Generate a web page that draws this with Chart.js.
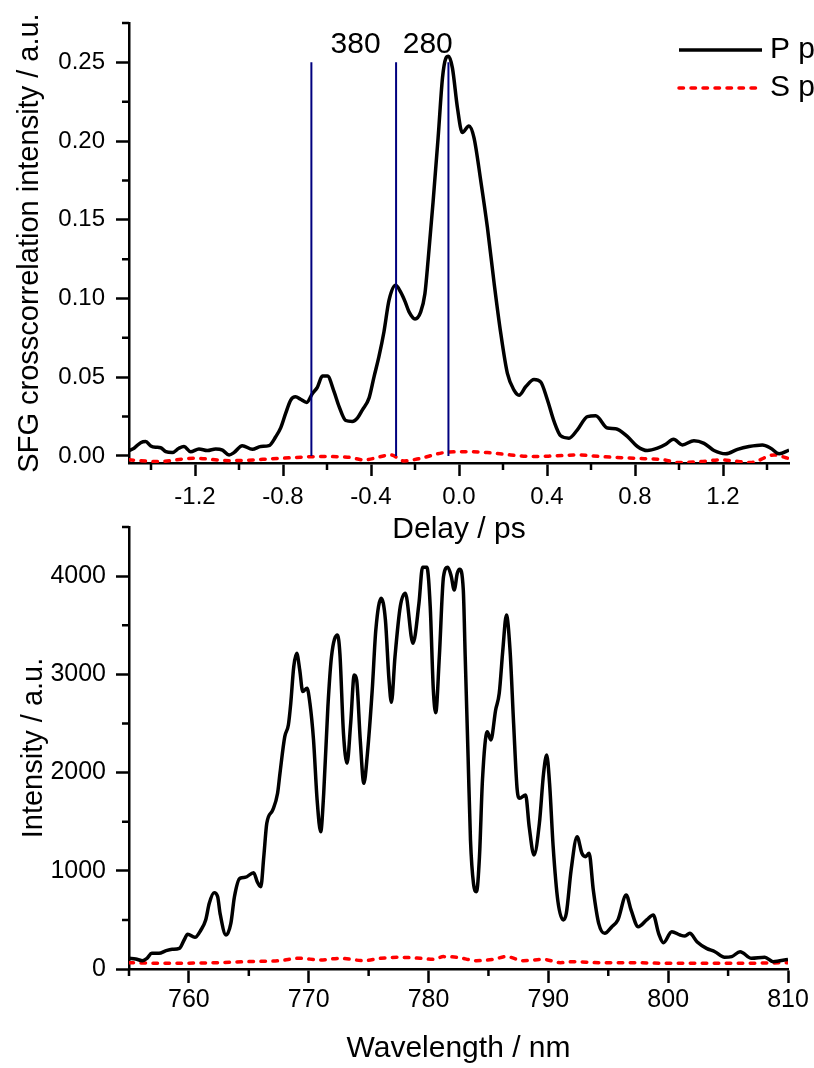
<!DOCTYPE html>
<html>
<head>
<meta charset="utf-8">
<script src="https://cdn.jsdelivr.net/npm/chart.js@4.4.1/dist/chart.umd.min.js"></script>
<style>
body { margin: 0; background: #fff; }
#wrap { position: relative; width: 814px; height: 1068px; overflow: hidden; }
canvas { position: absolute; left: 0; }
#top { top: 0; }
#bottom { top: 500px; }
</style>
</head>
<body>
<div id="wrap">
<canvas id="top" width="814" height="548"></canvas>
<canvas id="bottom" width="814" height="568"></canvas>
</div>
<script>
const FONT = "'Liberation Sans', Arial, sans-serif"
Chart.defaults.font.family = FONT
Chart.defaults.color = '#000'

// upper panel: SFG crosscorrelation vs delay
let delay = [-1.500,-1.477,-1.447,-1.424,-1.401,-1.379,-1.356,-1.333,-1.303,-1.273,-1.250,-1.220,-1.182,-1.144,-1.106,-1.075,-1.045,-1.023,-0.985,-0.939,
  -0.901,-0.864,-0.833,-0.810,-0.788,-0.765,-0.743,-0.720,-0.692,-0.666,-0.644,-0.621,-0.598,-0.568,-0.545,-0.515,-0.485,-0.462,-0.439,-0.409,
  -0.386,-0.364,-0.341,-0.318,-0.288,-0.265,-0.245,-0.227,-0.200,-0.174,-0.155,-0.140,-0.118,-0.095,-0.075,-0.060,-0.048,-0.030,-0.007,0.015,
  0.045,0.068,0.099,0.129,0.160,0.190,0.220,0.250,0.273,0.303,0.341,0.371,0.402,0.432,0.462,0.500,0.538,0.584,0.621,0.675,
  0.712,0.765,0.811,0.856,0.902,0.940,0.975,1.015,1.068,1.114,1.159,1.212,1.266,1.318,1.379,1.417,1.455,1.500]
let ppol = [0.0034,0.0049,0.0084,0.0091,0.0063,0.0055,0.0052,0.0027,0.0021,0.0049,0.0060,0.0027,0.0044,0.0034,0.0044,0.0037,0.0006,0.0021,0.0065,0.0042,
  0.0060,0.0065,0.0122,0.0180,0.0270,0.0355,0.0376,0.0360,0.0340,0.0397,0.0436,0.0507,0.0507,0.0408,0.0313,0.0225,0.0219,0.0240,0.0293,0.0367,
  0.0504,0.0630,0.0789,0.0989,0.1084,0.1040,0.0980,0.0915,0.0870,0.0915,0.1030,0.1250,0.1610,0.2020,0.2402,0.2525,0.2539,0.2465,0.2210,0.2054,
  0.2096,0.2022,0.1747,0.1452,0.1093,0.0777,0.0524,0.0418,0.0386,0.0439,0.0485,0.0470,0.0355,0.0219,0.0128,0.0113,0.0166,0.0250,0.0255,0.0177,
  0.0173,0.0124,0.0060,0.0034,0.0049,0.0074,0.0106,0.0070,0.0097,0.0080,0.0034,0.0013,0.0042,0.0060,0.0070,0.0049,0.0013,0.0037]
let delayS = [-1.500,-1.371,-1.205,-1.038,-0.810,-0.629,-0.507,-0.432,-0.310,-0.250,-0.174,-0.068,0.038,0.129,
  0.235,0.341,0.432,0.538,0.644,0.795,0.932,0.993,1.099,1.190,1.250,1.326,1.432,1.500]
let spol = [-0.0025,-0.0036,-0.0015,-0.0030,-0.0015,-0.0004,-0.0008,-0.0025,0.0006,-0.0032,-0.0015,0.0021,0.0027,0.0021,
  0.0006,-0.0004,0.0000,0.0006,-0.0004,-0.0015,-0.0025,-0.0042,-0.0036,-0.0025,-0.0032,-0.0042,0.0006,-0.0017]
let markers = [-0.671, -0.286, -0.048]
let markerTop = 0.25
let spacingLabels = ['380', '280']
let spacingAt = [-0.47, -0.142]
let spacingY = 0.2557
let delayTicks = [-1.2, -0.8, -0.4, 0, 0.4, 0.8, 1.2]
let delayMinor = [-1.4, -1.0, -0.6, -0.2, 0.2, 0.6, 1.0, 1.4]
let sfgTicks = [0, 0.05, 0.10, 0.15, 0.20, 0.25]
let sfgMinor = [0.025, 0.075, 0.125, 0.175, 0.225, 0.275]
let legendLabels = ['P pol', 'S pol']

// lower panel: spectrum
let wavelength = [755,755.56,756.1,756.5,756.9,757.5,758.1,758.6,759.2,759.6,759.9,760.5,761.0,761.4,761.7,762.1,762.4,762.6,763.1,763.5,
  763.8,764.25,764.7,765.4,765.7,766.0,766.25,766.5,767.0,767.4,767.6,768.0,768.3,768.5,768.75,769.0,769.25,769.5,769.86,770.1,
  770.4,770.7,771.0,771.25,771.6,771.9,772.4,772.6,772.9,773.2,773.5,773.8,774.0,774.3,774.6,774.9,775.3,775.6,776.05,776.4,
  776.7,776.9,777.2,777.64,778.06,778.7,779.2,779.5,779.86,780.14,780.4,780.6,780.9,781.25,781.6,781.9,782.14,782.4,782.6,782.9,
  783.06,783.3,783.5,783.75,784.0,784.25,784.5,784.9,785.2,785.6,785.9,786.2,786.5,786.8,787.1,787.4,787.6,788.1,788.4,788.8,
  789.25,789.6,789.86,790.1,790.4,790.8,791.25,791.5,791.9,792.4,792.8,793.1,793.4,793.75,794.2,794.7,795.3,795.8,796.5,796.9,
  797.5,798.2,798.75,799.2,799.6,800.3,801.0,801.4,801.8,802.4,803.2,803.9,804.7,805.3,806.0,806.95,808.06,808.75,810.0]
let specP = [109,102,85,109,160,160,187,200,210,295,353,322,397,499,669,777,736,567,346,465,
  736,923,933,981,889,838,1144,1483,1619,1789,1992,2366,2484,2705,3078,3214,3044,2824,2858,2705,
  2332,1721,1398,1789,2671,3180,3401,3214,2400,2094,2501,2994,2943,2332,1890,2196,2841,3452,3774,3553,
  2943,2715,3180,3689,3825,3316,3723,4090,4090,3689,2841,2610,3180,3995,4090,3995,3859,4029,4069,3859,
  3180,2162,1313,872,787,1144,1924,2416,2332,2637,2807,3248,3604,3248,2501,1823,1738,1772,1449,1161,
  1483,1992,2179,1890,1246,686,499,567,1008,1347,1178,1144,1178,804,465,363,431,499,753,601,
  431,499,550,363,268,380,346,336,363,278,210,176,119,126,176,109,119,75,98]
let wavelengthS = [755,757.9,762.1,764.9,767.6,769.2,771.0,772.6,774.6,776.0,777.6,779.3,780.4,781.25,
  782.4,784.0,785.4,786.5,787.9,789.6,791.0,792.1,794.3,797.1,799.9,802.6,805.4,810]
let specS = [64,58,64,75,85,109,92,109,85,109,119,109,98,126,
  119,85,98,126,85,98,64,75,64,64,58,58,58,64]
let waveTicks = [760, 770, 780, 790, 800, 810]
let waveMinor = [755, 765, 775, 785, 795, 805]
let intTicks = [0, 1000, 2000, 3000, 4000]
let intMinor = [500, 1500, 2500, 3500, 4500]

const RED_DASH = [4.5, 7.5]
const LINE_W = 3.5

function pts(xs, ys){
    return xs.map((x, i) => ({x: x, y: ys[i]}))
}

function axis(o){
    return {
        type: 'linear',
        min: o.min,
        max: o.max,
        border: {display: true, color: '#000', width: 2.5},
        grid: {drawOnChartArea: false, drawTicks: true, tickLength: o.tick, tickWidth: 2.5, tickColor: '#000'},
        ticks: {autoSkip: false, maxRotation: 0, padding: o.pad, font: {size: o.size, lineHeight: 1}, callback: o.fmt},
        title: {display: true, text: o.title, font: {size: o.tsize, lineHeight: 1}, padding: o.tpad},
        afterBuildTicks: s => { s.ticks = o.ticks.map(v => ({value: v})) },
        afterFit: s => {
            if (s.isHorizontal()) s.height = o.fit
            else s.width = o.fit
        }
    }
}

const minorTicks = {
    id: 'minorTicks',
    afterDraw(chart, args, opts){
        let ctx = chart.ctx
        let xs = chart.scales.x, ys = chart.scales.y
        ctx.save()
        ctx.strokeStyle = '#000'
        ctx.lineWidth = 2.5
        ctx.beginPath()
        for (const v of opts.x){
            let px = xs.getPixelForValue(v)
            ctx.moveTo(px, xs.top)
            ctx.lineTo(px, xs.top + opts.len)
        }
        for (const v of opts.y){
            let py = ys.getPixelForValue(v)
            ctx.moveTo(ys.right, py)
            ctx.lineTo(ys.right - opts.len, py)
        }
        ctx.stroke()
        ctx.restore()
    }
}

const spacing = {
    id: 'spacing',
    afterDatasetsDraw(chart){
        let ctx = chart.ctx
        ctx.save()
        ctx.font = '30px ' + FONT
        ctx.fillStyle = '#000'
        ctx.textAlign = 'center'
        ctx.textBaseline = 'alphabetic'
        spacingLabels.forEach((t, i) => {
            ctx.fillText(t, chart.scales.x.getPixelForValue(spacingAt[i]), chart.scales.y.getPixelForValue(spacingY))
        })
        ctx.restore()
    }
}

const legendBox = {
    id: 'legendBox',
    afterDraw(chart){
        let ctx = chart.ctx
        let rows = [[50, '#000', [], 'butt'], [88, '#ff0000', RED_DASH, 'round']]
        ctx.save()
        ctx.font = '30px ' + FONT
        ctx.fillStyle = '#000'
        ctx.textBaseline = 'middle'
        ctx.lineWidth = LINE_W
        rows.forEach((r, i) => {
            ctx.strokeStyle = r[1]
            ctx.setLineDash(r[2])
            ctx.lineCap = r[3]
            ctx.beginPath()
            ctx.moveTo(679, r[0])
            ctx.lineTo(762, r[0])
            ctx.stroke()
            ctx.fillText(legendLabels[i], 770, r[0])
        })
        ctx.restore()
    }
}

function curve(data, color, dash, order){
    return {
        data: data,
        borderColor: color,
        borderWidth: LINE_W,
        borderDash: dash,
        borderCapStyle: dash.length ? 'round' : 'butt',
        borderJoinStyle: 'round',
        pointRadius: 0,
        cubicInterpolationMode: 'monotone',
        fill: false,
        order: order
    }
}

let markerSets = markers.map(m => ({
    data: [{x: m, y: 0}, {x: m, y: markerTop}],
    borderColor: '#00007f',
    borderWidth: 2,
    pointRadius: 0,
    fill: false,
    order: 0
}))

new Chart(document.getElementById('top'), {
    type: 'line',
    data: {
        datasets: [
            ...markerSets,
            curve(pts(delay, ppol), '#000', [], 1),
            curve(pts(delayS, spol), '#ff0000', RED_DASH, 2)
        ]
    },
    options: {
        responsive: false,
        animation: false,
        events: [],
        layout: {padding: {left: 0, right: 25, top: 21, bottom: 0}},
        plugins: {
            legend: {display: false},
            tooltip: {enabled: false},
            minorTicks: {x: delayMinor, y: sfgMinor, len: 7}
        },
        scales: {
            x: axis({min: -1.5, max: 1.5, ticks: delayTicks, tick: 13, pad: 9, size: 24, fmt: v => v.toFixed(1),
                title: 'Delay / ps', tsize: 30, tpad: {top: 0, bottom: 3}, fit: 85}),
            y: axis({min: -0.0045, max: 0.275, ticks: sfgTicks, tick: 13, pad: 11, size: 24, fmt: v => v.toFixed(2),
                title: 'SFG crosscorrelation intensity / a.u.', tsize: 29, tpad: {top: 15, bottom: 0}, fit: 129})
        }
    },
    plugins: [minorTicks, spacing, legendBox]
})

new Chart(document.getElementById('bottom'), {
    type: 'line',
    data: {
        datasets: [
            curve(pts(wavelength, specP), '#000', [], 1),
            curve(pts(wavelengthS, specS), '#ff0000', RED_DASH, 2)
        ]
    },
    options: {
        responsive: false,
        animation: false,
        events: [],
        layout: {padding: {left: 0, right: 26, top: 27, bottom: 0}},
        plugins: {
            legend: {display: false},
            tooltip: {enabled: false},
            minorTicks: {x: waveMinor, y: intMinor, len: 7}
        },
        scales: {
            x: axis({min: 755, max: 810, ticks: waveTicks, tick: 14, pad: 5, size: 25, fmt: v => String(v),
                title: 'Wavelength / nm', tsize: 30, tpad: {top: 0, bottom: 4}, fit: 99}),
            y: axis({min: 0, max: 4500, ticks: intTicks, tick: 13, pad: 10, size: 25, fmt: v => String(v),
                title: 'Intensity / a.u.', tsize: 29, tpad: {top: 19, bottom: 0}, fit: 129})
        }
    },
    plugins: [minorTicks]
})
</script>
</body>
</html>
